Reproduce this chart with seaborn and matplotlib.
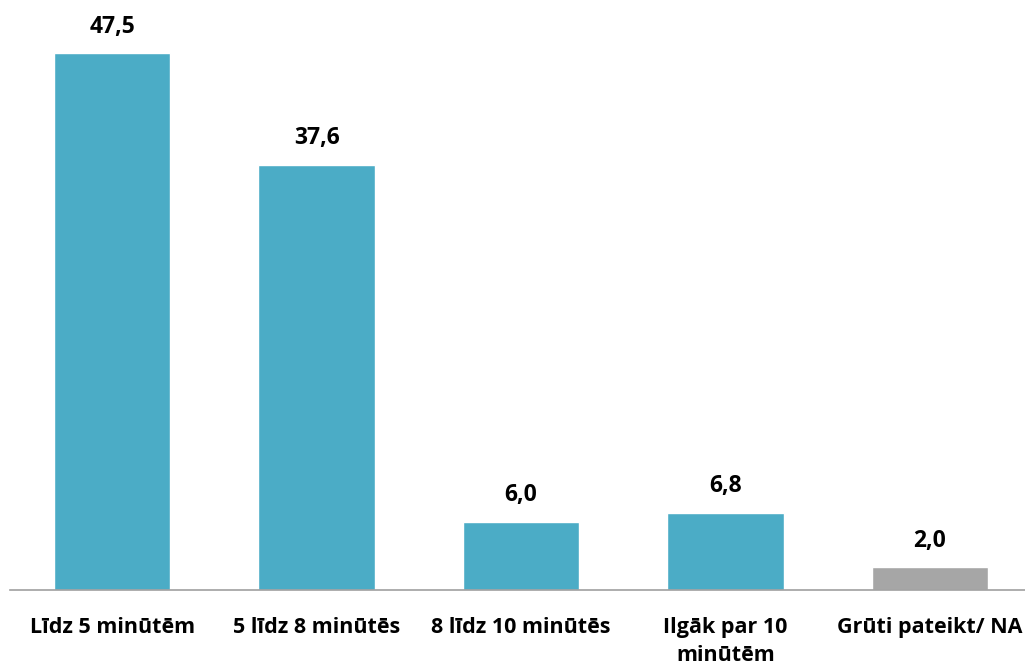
import matplotlib
matplotlib.use("Agg")
import matplotlib.pyplot as plt
import seaborn as sns
import pandas as pd

categories = ["Līdz 5 minūtēm", "5 līdz 8 minūtēs", "8 līdz 10 minūtēs",
              "Ilgāk par 10\nminūtēm", "Grūti pateikt/ NA"]
values = [47.5, 37.6, 6.0, 6.8, 2.0]
bar_colors = ["#4BACC6", "#4BACC6", "#4BACC6", "#4BACC6", "#A6A6A6"]

df = pd.DataFrame({"category": categories, "value": values})

sns.set_style("white")
plt.rcParams["font.family"] = ["Open Sans", "DejaVu Sans"]

fig = plt.figure(figsize=(10.25, 6.66), dpi=100)
ax = fig.add_axes([10 / 1025, 76.5 / 666, 1022 / 1025, 589.5 / 666])

sns.barplot(data=df, x="category", y="value", hue="category",
            palette=bar_colors, width=0.57, legend=False, ax=ax,
            saturation=1)

ax.set_xlim(-0.5, 4.5)
ax.set_ylim(0, 52.2)
ax.set_xlabel("")
ax.set_ylabel("")
ax.set_yticks([])
for s in ["top", "right", "left"]:
    ax.spines[s].set_visible(False)
ax.spines["bottom"].set_color("#A0A0A0")
ax.spines["bottom"].set_linewidth(1.2)
ax.tick_params(axis="x", length=0, pad=20, labelsize=15.5, labelcolor="black")
for lbl in ax.get_xticklabels():
    lbl.set_fontweight("bold")
    lbl.set_verticalalignment("top")
    lbl.set_linespacing(1.45)

for i, v in enumerate(values):
    ax.annotate(f"{v:.1f}".replace(".", ","), (i, v), xytext=(0, 19),
                textcoords="offset points", ha="center", va="center",
                fontsize=16.5, fontweight="bold", color="black")

fig.savefig("out.png", dpi=100)
